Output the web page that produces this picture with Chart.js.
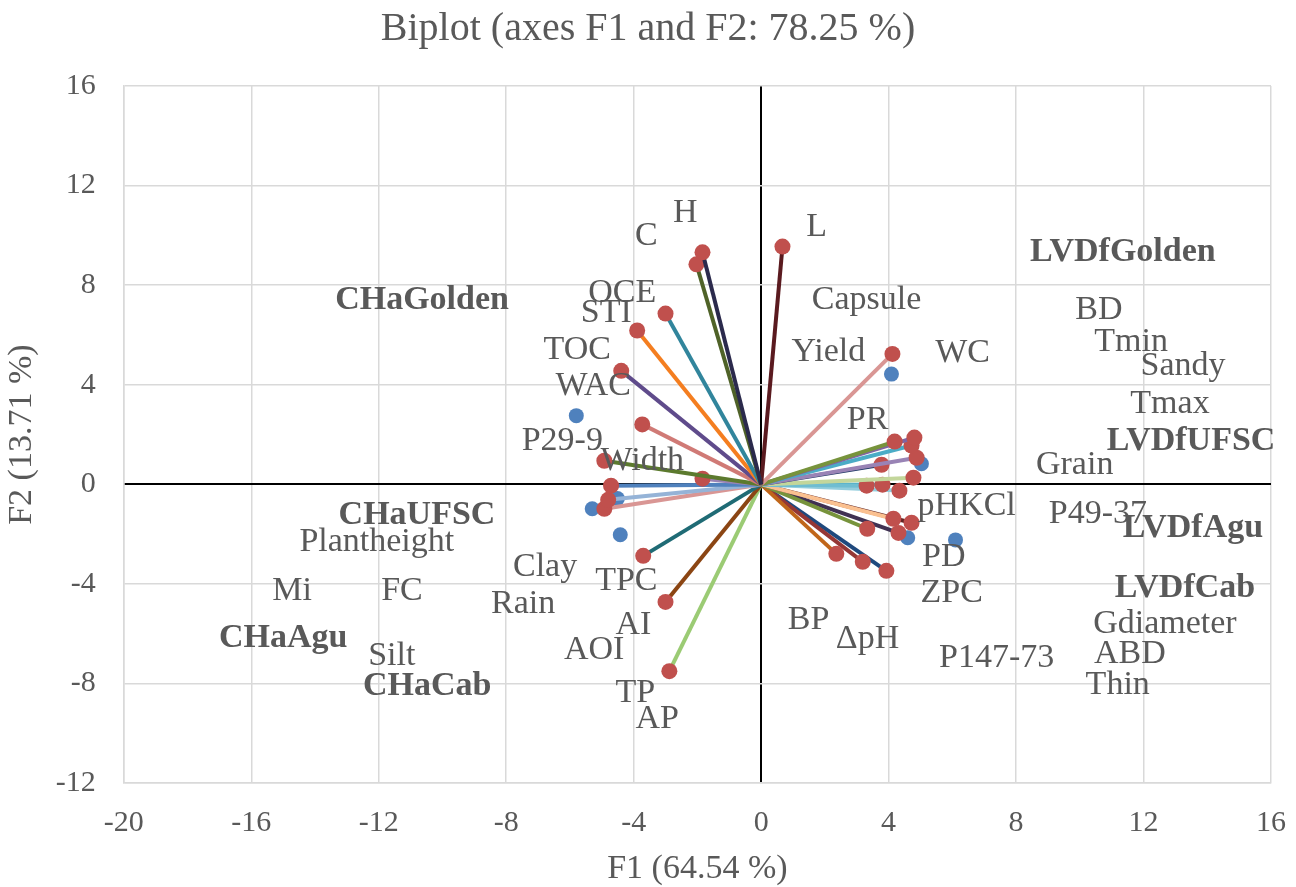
<!DOCTYPE html>
<html>
<head>
<meta charset="utf-8">
<script src="https://cdn.jsdelivr.net/npm/chart.js@4"></script>
<style>
  html, body { margin: 0; padding: 0; background: #fff; }
  #wrap { width: 1296px; height: 887px; }
</style>
</head>
<body>
<div id="wrap"><canvas id="biplot"></canvas></div>
<script>
// variable vectors (F1, F2 loadings scaled)
const vecF1 = [-1.84, -2.03, 0.67, -3.00, -3.89, -4.39, -3.73, -4.92, -1.84, -4.71, -4.80, -4.92,
               -3.70, -3.00, -2.88, 4.12, 4.19, 4.81, 4.72, 4.88, 3.78, 4.78, 3.31, 3.81, 4.34,
               4.15, 4.72, 3.33, 4.31, 2.36, 3.19, 3.93];
const vecF2 = [9.32, 8.84, 9.55, 6.86, 6.18, 4.56, 2.41, 0.95, 0.23, -0.05, -0.62, -0.98,
               -2.87, -4.72, -7.50, 5.24, 1.72, 1.88, 1.56, 1.07, 0.79, 0.27, -0.05, -0.01, -0.25,
               -1.38, -1.54, -1.78, -1.95, -2.79, -3.11, -3.47];
const vecColors = ['#2b2a4c', '#4f6228', '#5a1a1f', '#31859c', '#f47e20', '#5f4b8b', '#d07a76', '#5c7a2e',
                   '#9983b5', '#4f81bd', '#95b3d7', '#d99694', '#1f6b75', '#8b4513', '#9bcb74', '#d99694',
                   '#77933c', '#8064a2', '#4bacc6', '#9983b5', '#1f3864', '#c3d69b', '#6fbdd1', '#4bacc6',
                   '#93cddd', '#fac090', '#632523', '#77933c', '#403152', '#c0661a', '#953735', '#1f497d'];

// observations
const obsF1 = [-5.80, -4.51, -5.30, -4.42, 4.09, 5.03, 4.60, 6.10];
const obsF2 = [2.76, -0.57, -0.98, -2.02, 4.43, 0.83, -2.14, -2.23];

// variable labels as they sit on the chart
const varLabels = ['H', 'C', 'L', 'OCE', 'STI', 'TOC', 'WAC', 'P29-9', 'Width', 'Capsule', 'Yield', 'WC',
                   'PR', 'BD', 'Tmin', 'Sandy', 'Tmax', 'Grain', 'pHKCl', 'P49-37', 'PD', 'ZPC', 'BP',
                   'ΔpH', 'P147-73', 'Gdiameter', 'ABD', 'Thin', 'Plantheight', 'Clay', 'Mi', 'FC',
                   'Rain', 'TPC', 'AI', 'AOI', 'Silt', 'TP', 'AP'];
const varLabelF1 = [-2.38, -3.60, 1.74, -4.36, -4.86, -5.77, -5.27, -6.24, -3.73, 3.31, 2.11, 6.32,
                    3.34, 10.60, 11.61, 13.24, 12.83, 9.84, 6.45, 10.57, 5.73, 5.98, 1.49,
                    3.34, 7.39, 12.67, 11.57, 11.19, -12.06, -6.78, -14.72, -11.27,
                    -7.47, -4.23, -4.01, -5.24, -11.59, -3.95, -3.26];
const varLabelF2 = [10.89, 9.96, 10.33, 7.67, 6.90, 5.38, 3.93, 1.72, 0.95, 7.39, 5.30, 5.26,
                    2.58, 6.99, 5.70, 4.74, 3.21, 0.76, -0.86, -1.18, -2.91, -4.36, -5.44,
                    -6.21, -6.97, -5.60, -6.81, -8.06, -2.31, -3.31, -4.28, -4.28,
                    -4.80, -3.87, -5.64, -6.64, -6.89, -8.37, -9.41];

// observation labels
const obsLabels = ['CHaGolden', 'CHaUFSC', 'CHaAgu', 'CHaCab', 'LVDfGolden', 'LVDfUFSC', 'LVDfAgu', 'LVDfCab'];
const obsLabelF1 = [-10.64, -10.80, -15.00, -10.48, 11.35, 13.49, 13.55, 13.30];
const obsLabelF2 = [7.39, -1.22, -6.17, -8.10, 9.32, 1.72, -1.74, -4.15];

const xTicks = [-20, -16, -12, -8, -4, 0, 4, 8, 12, 16];
const yTicks = [-12, -8, -4, 0, 4, 8, 12, 16];

const FONT = '"Liberation Serif", "Times New Roman", serif';
const GREY = '#595959';

const datasets = vecF1.map((x, i) => ({
    data: [{ x: 0, y: 0 }, { x: x, y: vecF2[i] }],
    showLine: true,
    borderColor: vecColors[i],
    borderWidth: 4,
    pointRadius: ctx => ctx.dataIndex === 0 ? 0 : 8,
    pointBackgroundColor: '#c0504d',
    pointBorderWidth: 0,
    order: 1
}));

datasets.push({
    data: obsF1.map((x, i) => ({ x: x, y: obsF2[i] })),
    showLine: false,
    pointRadius: 7.5,
    pointBackgroundColor: '#4f81bd',
    pointBorderWidth: 0,
    order: 5
});

const pointLabels = {
    id: 'pointLabels',
    afterDatasetsDraw(chart) {
        const ctx = chart.ctx;
        const xs = chart.scales.x;
        const ys = chart.scales.y;
        ctx.save();
        ctx.fillStyle = GREY;
        ctx.textAlign = 'center';
        ctx.textBaseline = 'middle';
        ctx.font = '34px ' + FONT;
        varLabels.forEach((t, i) => {
            ctx.fillText(t, xs.getPixelForValue(varLabelF1[i]), ys.getPixelForValue(varLabelF2[i]));
        });
        ctx.font = 'bold 34px ' + FONT;
        obsLabels.forEach((t, i) => {
            ctx.fillText(t, xs.getPixelForValue(obsLabelF1[i]), ys.getPixelForValue(obsLabelF2[i]));
        });
        ctx.restore();
    }
};

const gridColor = ctx => ctx.tick && ctx.tick.value === 0 ? '#000000' : '#d9d9d9';
const gridWidth = ctx => ctx.tick && ctx.tick.value === 0 ? 2 : 1.5;

new Chart(document.getElementById('biplot'), {
    type: 'scatter',
    data: { datasets: datasets },
    options: {
        responsive: true,
        maintainAspectRatio: false,
        animation: false,
        layout: { padding: { left: 0, right: 0, top: 0, bottom: 0 } },
        scales: {
            x: {
                type: 'linear',
                min: -20,
                max: 16,
                afterBuildTicks: axis => { axis.ticks = xTicks.map(v => ({ value: v })); },
                afterFit: axis => { axis.paddingRight = 25; },
                grid: { color: gridColor, lineWidth: gridWidth, drawTicks: false },
                border: { color: '#d9d9d9', width: 1.5 },
                ticks: { color: GREY, font: { family: FONT, size: 30 }, padding: 22 },
                title: { display: true, text: 'F1 (64.54 %)', color: GREY, font: { family: FONT, size: 34 }, padding: { top: -15, bottom: -2 } }
            },
            y: {
                type: 'linear',
                min: -12,
                max: 16,
                afterBuildTicks: axis => { axis.ticks = yTicks.map(v => ({ value: v })); },
                grid: { color: gridColor, lineWidth: gridWidth, drawTicks: false },
                border: { color: '#d9d9d9', width: 1.5 },
                ticks: { color: GREY, font: { family: FONT, size: 30 }, padding: 28 },
                title: { display: true, text: 'F2 (13.71 %)', color: GREY, font: { family: FONT, size: 34 }, padding: { top: 2, bottom: -15 } }
            }
        },
        plugins: {
            legend: { display: false },
            tooltip: { enabled: false },
            title: {
                display: true,
                text: 'Biplot (axes F1 and F2: 78.25 %)',
                color: GREY,
                font: { family: FONT, size: 40, weight: 'normal' },
                padding: { top: 5, bottom: 33 }
            }
        }
    },
    plugins: [pointLabels]
});
</script>
</body>
</html>
